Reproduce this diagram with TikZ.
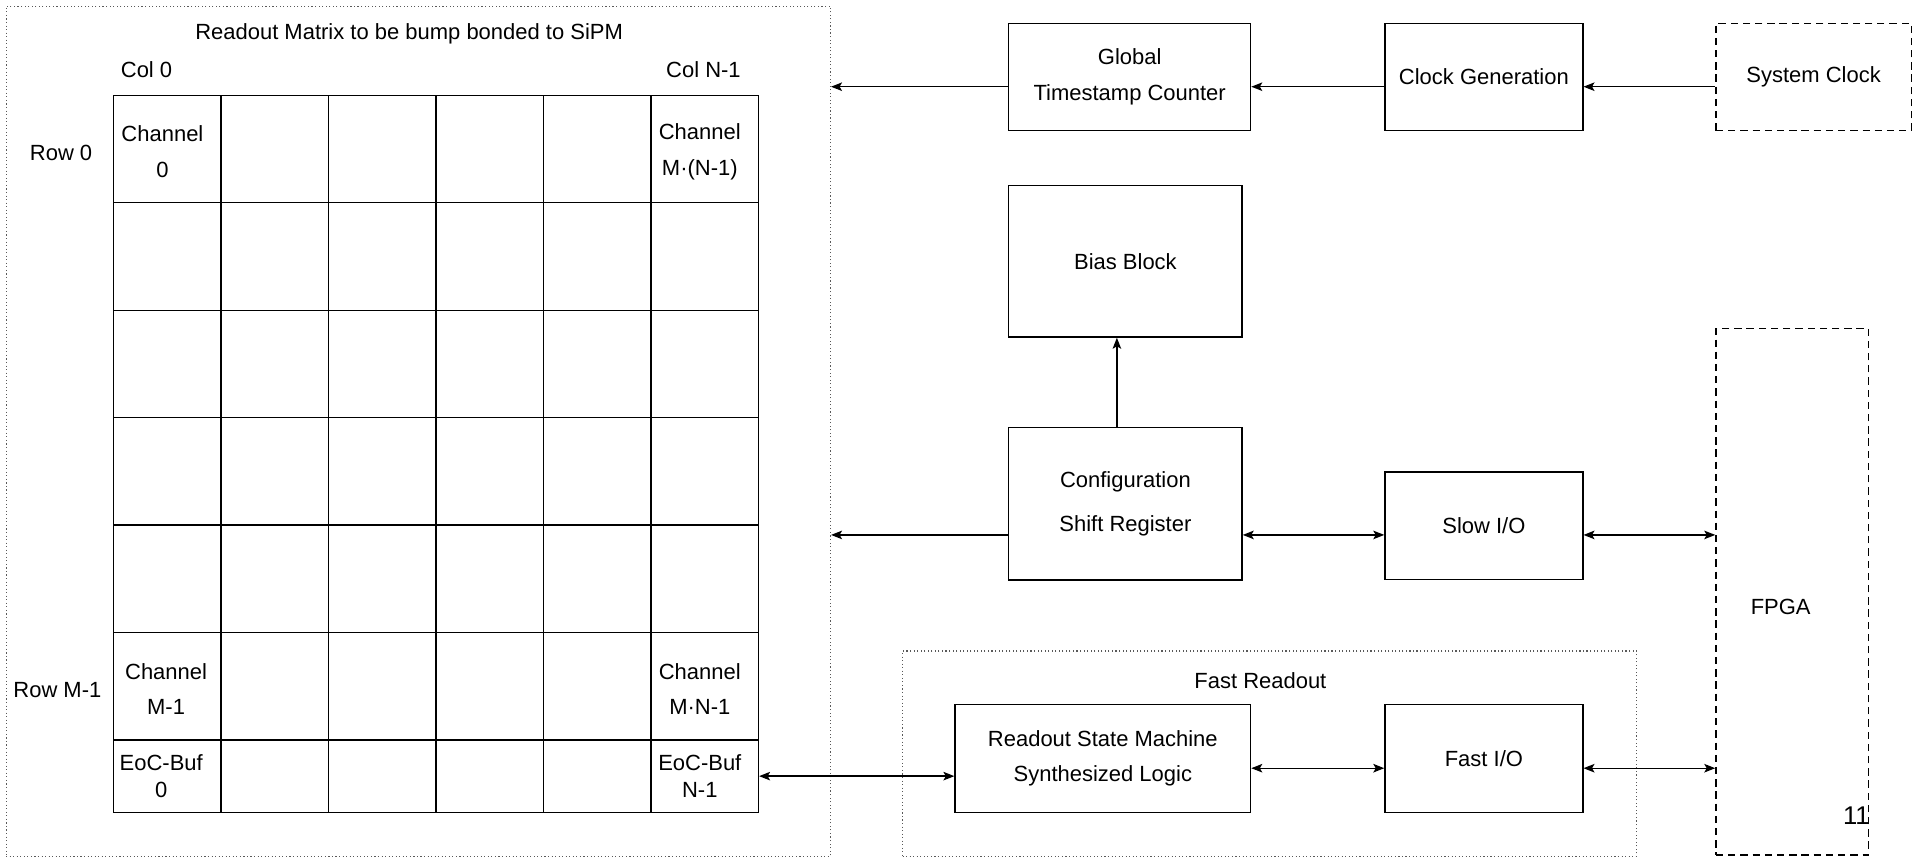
\documentclass[tikz,border=0pt]{standalone}
\usepackage[]{fontspec}
\usepackage[]{tikz}
\setmainfont{Liberation Sans}
\usetikzlibrary{arrows.meta}
\tikzset{blk/.style = {draw, line width=1.1pt, inner sep=0, align=center}}
\tikzset{dashblk/.style = {draw, line width=1.1pt, dash pattern=on 6pt off 4pt, inner sep=0, align=center}}
\tikzset{dotblk/.style = {draw=black!65, line width=0.9pt, dotted, inner sep=0}}
\tikzset{cell/.style = {draw, line width=1.1pt, minimum width=88, minimum height=88, inner sep=0}}
\tikzset{celltxt/.style = {align=center, inner sep=0}}
\tikzset{arr/.style = {line width=1.1pt, -{Stealth[length=9pt,width=7pt,inset=2pt]}}}
\tikzset{biarr/.style = {line width=1.1pt, {Stealth[length=9pt,width=7pt,inset=2pt]}-{Stealth[length=9pt,width=7pt,inset=2pt]}}}

\begin{document}
\begin{tikzpicture}[x=1pt, y=-1pt, font=\fontsize{18}{21.6}\selectfont]
        \useasboundingbox (0,0) rectangle (1568,703);
        \node[dotblk, minimum width=675, minimum height=696] (matrix) at (342.5,353) {};
        \node (title) at (335,28) {Readout Matrix to be bump bonded to SiPM};
        \node (col0) at (120,57) {Col 0};
        \node (colN) at (576,57) {Col N-1};
        \node (row0) at (50,125) {Row 0};
        \node (rowM) at (47,565) {Row M-1};
        \foreach \c in {0,...,5} {
            \foreach \r in {0,...,5}
                \node[cell] (cell\c\r) at (137+88*\c,122+88*\r) {};
            \node[cell, minimum height=59] (eoc\c) at (137+88*\c,635.5) {};
        }
        \node[celltxt] (ch0) at ([xshift=-4,yshift=-2]cell00) {Channel\\[8pt]0};
        \node[celltxt] (chtop) at ([xshift=-4,yshift=-2]cell50) {Channel\\[8pt]M·(N-1)};
        \node[celltxt] (chM) at ([xshift=-1,yshift=-2]cell05) {Channel\\[7pt]M-1};
        \node[celltxt] (chlast) at ([xshift=-4,yshift=-2]cell55) {Channel\\[7pt]M·N-1};
        \node[celltxt] (buf0) at ([xshift=-5]eoc0) {EoC-Buf\\0};
        \node[celltxt] (bufN) at ([xshift=-4]eoc5) {EoC-Buf\\N-1};
        \node[blk, minimum width=198, minimum height=88] (gtc) at (925,63) {Global\\[8pt]Timestamp Counter};
        \node[blk, minimum width=162, minimum height=88] (clkgen) at (1215,63) {Clock Generation};
        \node[dashblk, minimum width=160, minimum height=88] (sysclk) at (1485,63) {System Clock};
        \node[blk, minimum width=191, minimum height=124] (bias) at (921.5,214) {Bias Block};
        \node[blk, minimum width=191, minimum height=125] (config) at (921.5,412.5) {Configuration\\[15pt]Shift Register};
        \node[blk, minimum width=162, minimum height=88] (slowio) at (1215,430.5) {Slow I/O};
        \node[dashblk, minimum width=125, minimum height=431] (fpga) at (1467.5,484.5) {};
        \node (fpgatxt) at (1458,497) {FPGA};
        \node[dotblk, minimum width=601, minimum height=168] (fastro) at (1039.5,617) {};
        \node (fasttitle) at (1032,557) {Fast Readout};
        \node[blk, minimum width=242, minimum height=88] (rsm) at (903,621) {Readout State Machine\\[7pt]Synthesized Logic};
        \node[blk, minimum width=162, minimum height=88] (fastio) at (1215,621) {Fast I/O};
        \node[font=\fontsize{21}{24}\selectfont] (pagenum) at (1520,668) {11};
        \coordinate (clkbus) at (0,71);
        \coordinate (cfgbus) at (0,438);
        \coordinate (fastbus) at (0,629);
        \draw[arr] (sysclk.west |- clkbus) -- (clkgen.east |- clkbus);
        \draw[arr] (clkgen.west |- clkbus) -- (gtc.east |- clkbus);
        \draw[arr] (gtc.west |- clkbus) -- (matrix.east |- clkbus);
        \draw[arr] ([xshift=-7]config.north) -- ([xshift=-7]bias.south);
        \draw[arr] (config.west |- cfgbus) -- (matrix.east |- cfgbus);
        \draw[biarr] (config.east |- cfgbus) -- (slowio.west |- cfgbus);
        \draw[biarr] (slowio.east |- cfgbus) -- (fpga.west |- cfgbus);
        \draw[biarr] (eoc5.east) -- (rsm.west |- eoc5.east);
        \draw[biarr] (rsm.east |- fastbus) -- (fastio.west |- fastbus);
        \draw[biarr] (fastio.east |- fastbus) -- (fpga.west |- fastbus);
    \end{tikzpicture}
\end{document}
